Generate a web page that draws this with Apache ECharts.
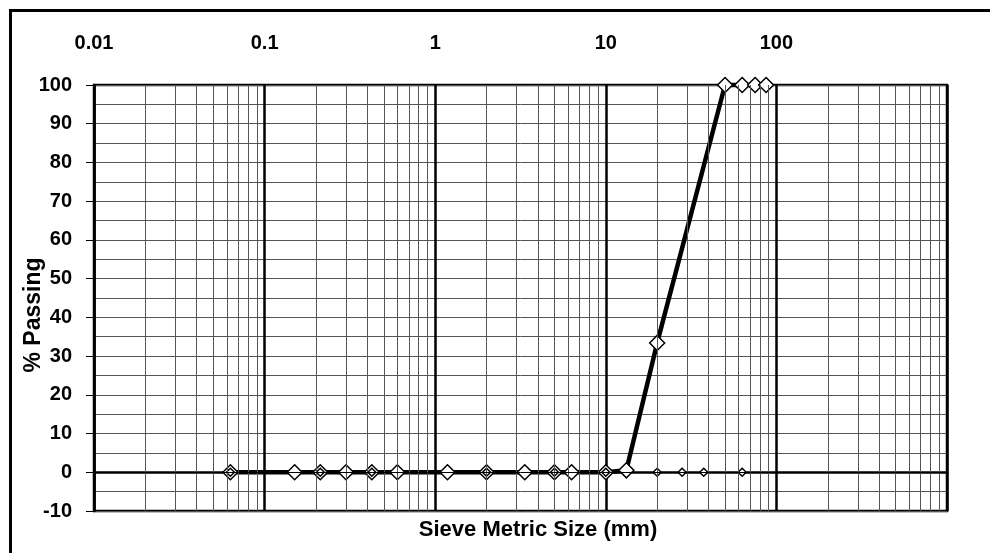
<!DOCTYPE html>
<html>
<head>
<meta charset="utf-8">
<script src="https://cdn.jsdelivr.net/npm/echarts@6/dist/echarts.min.js"></script>
<style>html,body{margin:0;padding:0;background:#fff;}#c{width:990px;height:553px;}</style>
</head>
<body>
<div id="c"></div>
<script>
// ---- data ----
const sieveSizes = [0.063, 0.15, 0.212, 0.3, 0.425, 0.6, 1.18, 2, 3.35, 5, 6.3, 10, 13.2, 20, 50, 63, 75, 87];
const passing    = [0, 0, 0, 0, 0, 0, 0, 0, 0, 0, 0, 0, 0.5, 33.4, 100, 100, 100, 100];
const sieveSizes2 = [0.063, 0.212, 0.425, 2, 5, 10, 20, 28, 37.5, 63];
const passing2    = [0, 0, 0, 0, 0, 0, 0, 0, 0, 0];
const xTickLabels = ['0.01', '0.1', '1', '10', '100'];
const yTickMin = -10, yTickMax = 100, yTickStep = 10;

// minor log grid positions (2..9 in each decade)
const minorX = [];
for (let d = -2; d <= 2; d++) {
  for (let m = 2; m <= 9; m++) minorX.push(+(m * Math.pow(10, d)).toPrecision(3));
}

const FONT = '"Liberation Sans", Arial, sans-serif';
const chart = echarts.init(document.getElementById('c'), null, {renderer: 'canvas'});
chart.setOption({
  animation: false,
  backgroundColor: '#fff',
  grid: {left: 94, right: 43, top: 85, bottom: 42, show: true, borderColor: '#000', borderWidth: 2.5, backgroundColor: 'transparent'},
  xAxis: {
    type: 'log', logBase: 10, min: 0.01, max: 1000, position: 'top', splitNumber: 5,
    axisLine: {show: true, lineStyle: {color: '#000', width: 2.5}},
    axisTick: {show: false},
    axisLabel: {
      margin: 32, color: '#000', fontFamily: FONT, fontWeight: 'bold', fontSize: 20,
      formatter: function (v) { const i = Math.round(Math.log10(v)) + 2; return xTickLabels[i] || ''; }
    },
    splitLine: {show: true, lineStyle: {color: '#000', width: 2.5}}
  },
  yAxis: {
    type: 'value', min: yTickMin, max: yTickMax, interval: yTickStep,
    axisLine: {show: true, lineStyle: {color: '#000', width: 2.5}},
    axisTick: {show: true, length: 8, lineStyle: {color: '#000', width: 1}},
    axisLabel: {margin: 22, color: '#000', fontFamily: FONT, fontWeight: 'bold', fontSize: 20},
    splitLine: {show: true, lineStyle: {color: '#555', width: 1}},
    minorTick: {show: false, splitNumber: 2},
    minorSplitLine: {show: true, lineStyle: {color: '#555', width: 1}}
  },
  graphic: [
    {type: 'rect', left: 8, top: 8, shape: {width: 1100, height: 700}, style: {fill: 'none', stroke: '#000', lineWidth: 3}, silent: true},
    {type: 'text', x: 34, y: 315, rotation: Math.PI / 2, style: {text: '% Passing', font: 'bold 23px ' + FONT, fill: '#000', align: 'center', verticalAlign: 'middle'}},
    {type: 'text', x: 538, y: 530, style: {text: 'Sieve Metric Size (mm)', font: 'bold 22px ' + FONT, fill: '#000', align: 'center', verticalAlign: 'middle'}}
  ],
  series: [
    {
      type: 'line', data: [], silent: true,
      markLine: {
        silent: true, symbol: ['none', 'none'], label: {show: false},
        lineStyle: {color: '#555', width: 1, type: 'solid'},
        data: minorX.map(v => ({xAxis: v})).concat([{yAxis: 0, lineStyle: {color: '#000', width: 1}}])
      }
    },
    {
      type: 'line', clip: false, z: 3,
      data: sieveSizes.map((s, i) => [s, passing[i]]),
      lineStyle: {color: '#000', width: 4.5},
      symbol: 'diamond', symbolSize: 15,
      itemStyle: {color: '#fff', borderColor: '#000', borderWidth: 1.5}
    },
    {
      type: 'scatter', z: 4,
      data: sieveSizes2.map((s, i) => [s, passing2[i]]),
      symbol: 'diamond', symbolSize: 8,
      itemStyle: {color: '#fff', borderColor: '#000', borderWidth: 1.5, opacity: 1}
    }
  ]
});
</script>
</body>
</html>
